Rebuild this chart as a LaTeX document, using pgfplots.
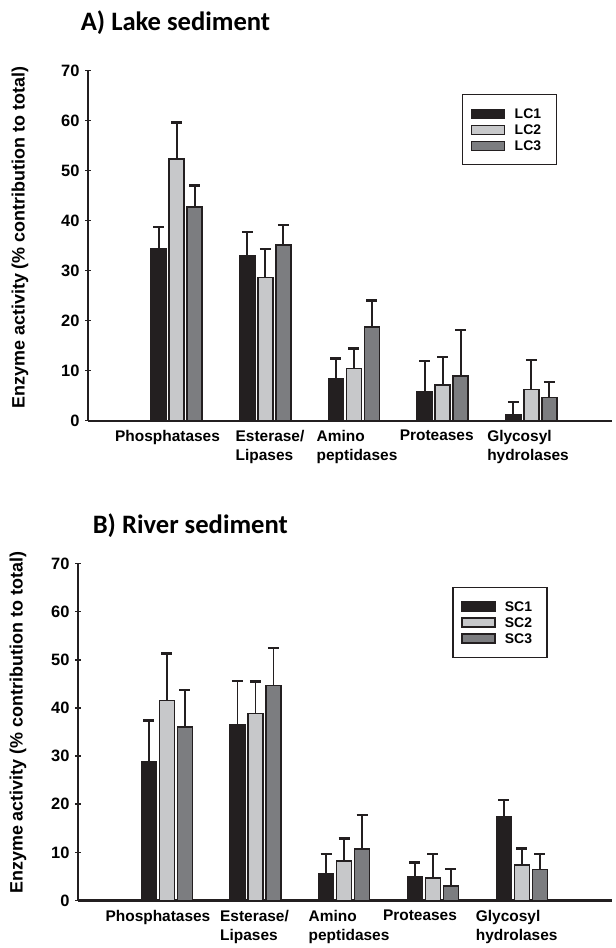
\documentclass[border=0pt]{standalone}
\usepackage{fontspec}
\setmainfont{Liberation Sans}
\newfontfamily\titlefont{Carlito}
\usepackage{pgfplots}
\usepackage{pgfplotstable}
\pgfplotsset{compat=1.18}
\definecolor{cA}{HTML}{231F20}
\definecolor{cB}{HTML}{C7C8CA}
\definecolor{cC}{HTML}{7C7D80}

\pgfplotstableread{
x y e
1 34.3 4.4
2 32.9 4.8
3 8.3 4.1
4 5.7 6.2
5 1.1 2.6
}\LCone
\pgfplotstableread{
x y e
1 52.3 7.3
2 28.6 5.7
3 10.4 4.0
4 7.1 5.6
5 6.2 5.9
}\LCtwo
\pgfplotstableread{
x y e
1 42.7 4.3
2 35.1 4.0
3 18.7 5.3
4 8.9 9.2
5 4.6 3.1
}\LCthree
\pgfplotstableread{
x y e
1 28.9 8.5
2 36.5 9.1
3 5.5 4.2
4 4.9 3.0
5 17.4 3.5
}\SCone
\pgfplotstableread{
x y e
1 41.5 9.8
2 38.8 6.7
3 8.2 4.7
4 4.7 4.9
5 7.4 3.4
}\SCtwo
\pgfplotstableread{
x y e
1 36.0 7.7
2 44.6 7.9
3 10.7 7.0
4 3.0 3.5
5 6.4 3.3
}\SCthree

\pgfplotsset{
 sedstyle/.style={
  scale only axis, clip=false,
  axis lines*=left,
  axis line style={-, line width=2.2bp, draw=cA},
  ymin=0, ymax=70, ytick={0,10,...,70},
  ybar, bar width=15bp,
  tick align=center, major tick length=6bp,
  y tick style={line width=1.5bp, draw=cA},
  x tick style={draw=none},
  /pgf/number format/assume math mode=true,
  yticklabel style={font=\fontsize{16.5}{17}\selectfont\bfseries, xshift=-2bp},
  xticklabel style={font=\fontsize{15.5}{19}\selectfont\bfseries, align=left, anchor=north, yshift=-3bp},
  ylabel style={font=\fontsize{18}{18}\selectfont\bfseries, anchor=center, rotate=0},
  error bars/y dir=plus,
  error bars/y explicit,
  error bars/error bar style={line width=1.8bp, draw=cA},
  error bars/error mark options={rotate=90, line width=2.4bp, mark size=5.5bp, draw=cA},
  legend image code/.code={\draw[#1, line width=1.4bp] (0bp,-4.5bp) rectangle (33bp,4.5bp); \path[draw=none,fill=none] (-2bp,0bp) -- (41bp,0bp);},
  legend cell align=left,
  legend style={font=\fontsize{14}{14}\selectfont\bfseries, draw=cA, line width=1.2bp, anchor=north west,
     inner xsep=7bp, inner ysep=12bp, row sep=2bp,
     nodes={inner sep=2bp, text height=10bp, text depth=0bp}},
 }
}

\begin{document}
\begin{tikzpicture}
\useasboundingbox (0,0) rectangle (616bp,948bp);

\node[anchor=base west, font={\titlefont\bfseries\fontsize{26.7}{30}\selectfont}] at (77.3bp,917bp) {A) Lake sediment};
\node[anchor=base west, font={\titlefont\bfseries\fontsize{26.7}{30}\selectfont}] at (89.3bp,414.7bp) {B) River sediment};

\begin{axis}[sedstyle,
  at={(88bp,527.3bp)}, anchor=south west,
  width=524bp, height=350bp,
  xmin=0, xmax=5.91,
  xtick={0.897,2.053,3.034,3.933,4.963},
  xticklabels={Phosphatases,{Esterase/\\Lipases},{Amino\\peptidases},Proteases,{Glycosyl\\hydrolases}},
  ylabel={Enzyme activity (\% contribution to total)},
  ylabel style={at={(axis description cs:-0.1298,0.523)}},
  legend style={at={(0.714,0.933)}},
]
\addplot[fill=cA, draw=cA, line width=1.4bp, bar shift=-18bp] table[x=x,y=y,y error=e] {\LCone};
\addplot[fill=cB, draw=cA, line width=1.4bp, bar shift=0bp] table[x=x,y=y,y error=e] {\LCtwo};
\addplot[fill=cC, draw=cA, line width=1.4bp, bar shift=18bp] table[x=x,y=y,y error=e] {\LCthree};
\legend{\makebox[33bp][l]{LC1},\makebox[33bp][l]{LC2},\makebox[33bp][l]{LC3}}
\end{axis}

\begin{axis}[sedstyle,
  at={(78bp,47.5bp)}, anchor=south west,
  width=534bp, height=337bp,
  xmin=0, xmax=6.017,
  xtick={0.901,1.989,3.054,3.853,4.943},
  xticklabels={Phosphatases,{Esterase/\\Lipases},{Amino\\peptidases},Proteases,{Glycosyl\\hydrolases}},
  ylabel={Enzyme activity (\% contribution to total)},
  ylabel style={at={(axis description cs:-0.1124,0.527)}},
  legend style={at={(0.701,0.931)}},
]
\addplot[fill=cA, draw=cA, line width=1.4bp, bar shift=-18bp] table[x=x,y=y,y error=e] {\SCone};
\addplot[fill=cB, draw=cA, line width=1.4bp, bar shift=0bp] table[x=x,y=y,y error=e] {\SCtwo};
\addplot[fill=cC, draw=cA, line width=1.4bp, bar shift=18bp] table[x=x,y=y,y error=e] {\SCthree};
\legend{\makebox[33bp][l]{SC1},\makebox[33bp][l]{SC2},\makebox[33bp][l]{SC3}}
\end{axis}
\end{tikzpicture}
\end{document}
